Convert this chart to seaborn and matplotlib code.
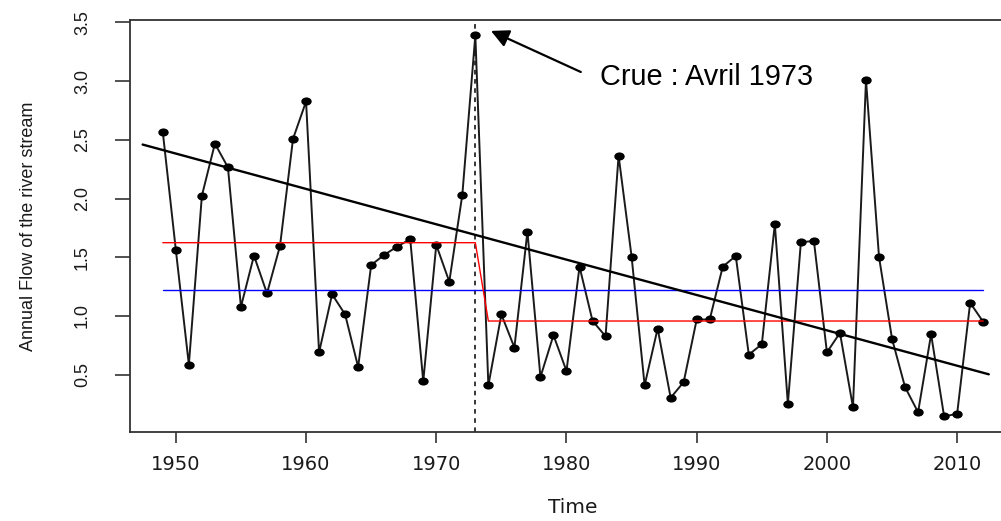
import numpy as np
import pandas as pd
import matplotlib
matplotlib.use("Agg")
import matplotlib.pyplot as plt
import seaborn as sns
from matplotlib.path import Path
from matplotlib.transforms import Affine2D

# ---------------- data ----------------
years = list(range(1949, 2013))
flow = [2.565, 1.562, 0.585, 2.024, 2.468, 2.266, 1.078, 1.514, 1.192, 1.597,
        2.509, 2.827, 0.690, 1.184, 1.013, 0.565, 1.434, 1.520, 1.591, 1.654,
        0.443, 1.605, 1.292, 2.032, 3.391,
        0.409, 1.013, 0.731, 1.719, 0.480, 0.836, 0.531, 1.420, 0.958, 0.827,
        2.366, 1.505, 0.409, 0.893, 0.303, 0.437, 0.970, 0.970, 1.420, 1.511,
        0.671, 0.759, 1.782, 0.252, 1.628, 1.639, 0.690, 0.856, 0.223, 3.010,
        1.503, 0.805, 0.394, 0.180, 0.844, 0.144, 0.167, 1.112, 0.950]
break_year = 1973
trend_years = [1947.45, 2012.43]
trend_values = [2.46, 0.503]
x_ticks = [1950, 1960, 1970, 1980, 1990, 2000, 2010]
y_ticks = [0.5, 1.0, 1.5, 2.0, 2.5, 3.0, 3.5]
annot_text = "Crue : Avril 1973"
arrow_head = (1974.2, 3.428)
arrow_tail = (1981.1, 3.078)
text_pos = (1982.6, 2.967)

df = pd.DataFrame({"year": years, "flow": flow})
yrs = np.array(years)
fl = np.array(flow)
mean_before = fl[yrs <= break_year].mean()
mean_after = fl[yrs > break_year].mean()
df["segment_mean"] = np.where(yrs <= break_year, mean_before, mean_after)
df["overall_mean"] = fl.mean()
trend_df = pd.DataFrame({"year": trend_years, "value": trend_values})

# ---------------- style ----------------
sns.set_theme(style="white")
plt.rcParams["font.family"] = ["Liberation Sans", "DejaVu Sans"]

fig = plt.figure(figsize=(10.01, 5.21), dpi=100)
ax = fig.add_axes([130 / 1001, (521 - 431.7) / 521, 886 / 1001, 411.7 / 521])

ellipse = Path.unit_circle().transformed(Affine2D().scale(1.28, 1.0))

sns.lineplot(data=df, x="year", y="flow", ax=ax, color="#1a1a1a", lw=1.4,
             marker=ellipse, markersize=7.5, markerfacecolor="black",
             markeredgecolor="black", markeredgewidth=0, zorder=3)
sns.lineplot(data=df, x="year", y="overall_mean", ax=ax, color="#0000FF",
             lw=1.0, zorder=4)
sns.lineplot(data=df, x="year", y="segment_mean", ax=ax, color="#FF0000",
             lw=1.0, zorder=4)
sns.lineplot(data=trend_df, x="year", y="value", ax=ax, color="black",
             lw=1.7, zorder=5)
ax.axvline(break_year, color="black", lw=1.1, ls=(0, (3, 3)), zorder=2)

# R-like 4% axis expansion
xr = max(years) - min(years)
ax.set_xlim(min(years) - 0.04 * xr, max(years) + 0.04 * xr)
yr_ = fl.max() - fl.min()
ax.set_ylim(fl.min() - 0.04 * yr_, fl.max() + 0.04 * yr_)

ax.set_xticks(x_ticks)
ax.set_xticklabels([str(t) for t in x_ticks], family="DejaVu Sans",
                   fontsize=14, color="#1a1a1a")
ax.set_yticks(y_ticks)
ax.set_yticklabels([f"{t:.1f}" for t in y_ticks], fontsize=13,
                   color="#1a1a1a", rotation=90, va="center")
ax.tick_params(axis="x", length=8, width=1.2, color="#333333", pad=9,
               bottom=True)
ax.tick_params(axis="y", length=11, width=1.2, color="#333333", pad=17,
               left=True)

for s in ax.spines.values():
    s.set_visible(True)
    s.set_color("#333333")
    s.set_linewidth(1.3)

ax.set_xlabel("Time", family="DejaVu Sans", fontsize=14.5, color="#1a1a1a")
ax.xaxis.set_label_coords(0.5, -0.185)
ax.xaxis.label.set_verticalalignment("center")
ax.set_ylabel("Annual Flow of the river stream", fontsize=13, color="#1a1a1a")
ax.yaxis.set_label_coords(-0.115, 0.5)
ax.yaxis.label.set_verticalalignment("center")

ax.annotate("", xy=arrow_head, xytext=arrow_tail,
            arrowprops=dict(arrowstyle="-|>,head_length=0.6,head_width=0.3",
                            mutation_scale=18, color="black", lw=1.6,
                            shrinkA=0, shrinkB=0))
ax.text(text_pos[0], text_pos[1], annot_text, fontsize=20.8, color="black",
        ha="left", va="baseline")

fig.savefig("out.png", dpi=100)
